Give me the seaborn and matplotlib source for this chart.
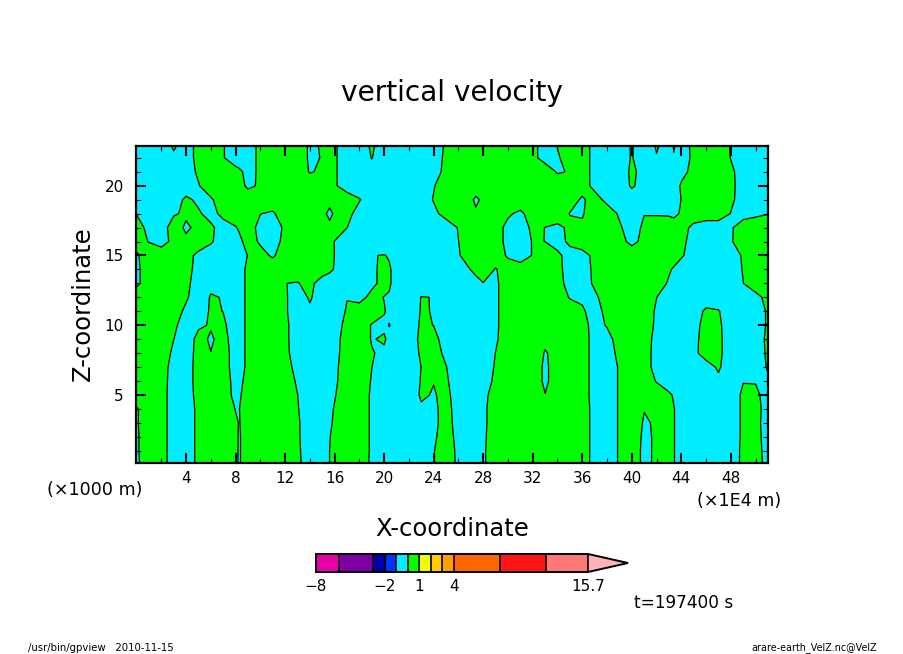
import matplotlib
matplotlib.use('Agg')
import matplotlib.pyplot as plt
from matplotlib.colors import ListedColormap, BoundaryNorm
import numpy as np
import seaborn as sns

# x in units of 1E4 m, z in units of 1000 m
x_vals = [0, 1, 2, 3, 4, 5, 6, 7, 8, 8.3,
          9, 10, 11, 12, 13, 14, 15, 15.6, 16, 17, 18,
          19, 20, 20.4, 21, 22, 23, 24, 25, 26, 27, 27.4,
          28, 29, 30, 31, 32, 33, 34, 35, 36, 37,
          38, 39, 40, 41, 42, 43, 43.4, 44, 45, 46,
          47, 48, 49, 50, 51]
z_vals = list(range(24))

# vertical velocity, one row per z level
w_z00 = [-.25,.75,.47,-.53,-.7,.3,.9,.9,.17,-.1,
         .6,.9,.9,.9,.3,-.7,-.6,.01,.4,.9,.75,
         -.25,-.9,-.9,-.9,-.9,-.9,-.05,.7,-.25,-.9,-.8,
         -.2,.8,.9,.9,.9,.9,.9,.9,.6,-.4,
         -.85,.15,.9,-.39,.26,.45,.05,-.55,-.9,-.9,
         -.9,-.7,.3,.55,-.45]
w_z01 = [-.2,.8,.47,-.53,-.7,.3,.9,.9,.2,-.1,
         .6,.9,.9,.9,.25,-.75,-.6,.01,.4,.9,.8,
         -.2,-.9,-.9,-.9,-.9,-.9,-.05,.7,-.3,-.9,-.8,
         -.2,.8,.9,.9,.9,.9,.9,.9,.6,-.4,
         -.85,.15,.9,-.39,.26,.45,.05,-.55,-.9,-.9,
         -.9,-.7,.3,.5,-.5]
w_z02 = [-.2,.8,.47,-.53,-.7,.3,.9,.9,.2,-.1,
         .6,.9,.9,.9,.2,-.8,-.65,-.05,.35,.9,.8,
         -.2,-.9,-.9,-.9,-.9,-.8,-.2,.6,-.4,-.9,-.85,
         -.25,.75,.9,.9,.9,.9,.9,.9,.6,-.4,
         -.85,.15,.9,-.3,.2,.45,.05,-.55,-.9,-.9,
         -.9,-.75,.25,.45,-.55]
w_z03 = [-.15,.85,.47,-.53,-.7,.3,.9,.9,.17,-.05,
         .55,.9,.9,.9,.2,-.8,-.8,-.2,.2,.9,.8,
         -.2,-.9,-.9,-.9,-.9,-.7,-.3,.5,-.5,-.9,-.9,
         -.3,.7,.9,.9,.9,.9,.9,.9,.6,-.4,
         -.85,.15,.9,-.15,.15,.45,.05,-.55,-.9,-.9,
         -.9,-.75,.25,.4,-.6]
w_z04 = [-.15,.85,.47,-.53,-.7,.3,.9,.9,-.05,-.02,
         .7,.9,.9,.9,.1,-.9,-.9,-.3,.1,.9,.8,
         -.2,-.9,-.9,-.9,-.9,-.2,-.25,.45,-.55,-.9,-.9,
         -.3,.7,.9,.9,.9,.9,.9,.9,.6,-.4,
         -.85,.15,.9,.05,.9,.45,.05,-.55,-.9,-.9,
         -.9,-.75,.25,.45,-.55]
w_z05 = [.9,.9,.47,-.53,-.6,.4,.9,.65,-.35,-.15,
         .55,.9,.9,.9,.02,-.9,-.9,-.5,-.1,.9,.8,
         -.2,-.9,-.9,-.9,-.9,.2,-.1,.35,-.65,-.9,-.9,
         -.4,.6,.9,.9,.9,.03,.9,.9,.55,-.45,
         -.85,.15,.9,.9,.9,.25,-.15,-.75,-.9,-.9,
         -.9,-.75,.25,.35,-.65]
w_z06 = [.9,.9,.5,-.5,-.55,.45,.9,.6,-.4,-.3,
         .4,.9,.9,.8,-.2,-.9,-.9,-.65,-.25,.75,.9,
         -.1,-.9,-.9,-.9,-.9,.1,.04,.2,-.8,-.9,-.9,
         -.7,.3,.9,.9,.75,-.25,.65,.9,.55,-.45,
         -.85,.15,.9,.9,-.1,-.9,-.9,-.9,-.9,-.9,
         -.3,-.9,-.05,-.1,-.2]
w_z07 = [.9,.9,.55,-.45,-.55,.45,.9,.5,-.5,-.45,
         .25,.9,.9,.55,-.45,-.9,-.9,-.7,-.3,.7,.9,
         .02,-.9,-.9,-.9,-.9,.02,.9,.05,-.9,-.9,-.9,
         -.85,.15,.9,.9,.75,-.25,.65,.9,.55,-.45,
         -.85,.15,.9,.55,-.45,-.9,-.9,-.9,-.9,-.6,
         .2,-.9,-.9,-.85,.15]
w_z08 = [.9,.9,.75,-.25,-.6,.4,.02,.45,-.45,-.45,
         .25,.9,.9,.35,-.65,-.9,-.9,-.8,-.4,.6,.9,
         .1,-.3,-.5,-.9,-.8,.2,.65,-.35,-.9,-.9,-.9,
         -.9,.02,.9,.9,.9,-.1,.4,.9,.55,-.45,
         -.65,.35,.9,.55,-.45,-.9,-.9,-.9,-.35,.65,
         .3,-.7,-.9,-.75,.25]
w_z09 = [.9,.9,.9,.02,-.75,.4,-.15,.4,-.6,-.45,
         .25,.9,.9,.3,-.7,-.9,-.9,-.85,-.45,.55,.9,
         -.1,.2,-.4,-.9,-.7,.3,.4,-.6,-.9,-.9,-.9,
         -.9,-.2,.8,.9,.9,.3,.9,.9,.55,-.45,
         -.45,.55,.9,.6,-.4,-.9,-.9,-.9,-.4,.6,
         .3,-.7,-.9,-.7,.3]
w_z10 = [.9,.9,.9,.3,-.7,-.2,.1,.25,-.75,-.45,
         .25,.9,.9,.3,-.7,-.9,-.9,-.9,-.6,.4,.9,
         -.1,-.3,.05,-.3,-.8,.2,-.02,-.9,-.9,-.9,-.9,
         -.9,-.25,.75,.9,.9,.9,.9,.9,.5,-.5,
         .1,.9,.9,.75,-.25,-.9,-.9,-.9,-.5,.5,
         .25,-.75,-.9,-.8,.2]
w_z11 = [.9,.9,.9,.7,-.3,-.9,.2,-.02,-.75,-.45,
         .25,.9,.9,.2,-.8,-.3,-.9,-.9,-.85,.15,.9,
         .9,.1,-.3,-.9,-.9,.1,-.05,-.9,-.9,-.9,-.9,
         -.9,-.25,.75,.9,.9,.9,.9,.8,.2,-.6,
         .4,.9,.9,.8,-.2,-.9,-.9,-.9,-.85,.3,
         .1,-.9,-.9,-.8,.2]
w_z12 = [.9,.9,.9,.9,.2,-.8,.1,-.05,-.75,-.45,
         .25,.9,.9,.2,-.8,.2,-.9,-.9,-.9,-.05,-.6,
         .5,-.05,-.1,-.9,-.9,.05,-.03,-.9,-.9,-.9,-.9,
         -.9,-.25,.75,.9,.9,.9,.8,-.1,-.25,-.3,
         .7,.9,.9,.9,.02,-.9,-.9,-.9,-.9,-.9,
         -.9,-.9,-.9,-.5,.5]
w_z13 = [-.3,.7,.9,.9,.35,-.65,-.3,-.9,-.75,-.45,
         .25,.9,.9,.02,-.1,.5,-.9,-.9,-.9,-.9,-.9,
         -.4,.55,.15,-.45,-.9,-.9,-.9,-.9,-.9,-.9,-.5,
         -.05,-.25,.75,.9,.9,.9,.5,-.5,-.75,.25,
         .9,.9,.9,.9,.8,-.2,-.6,-.9,-.9,-.9,
         -.9,-.9,-.02,.9,.9]
w_z14 = [-.3,.7,.9,.9,.5,-.5,-.9,-.9,-.75,-.45,
         .25,.9,.9,.9,.9,.9,.9,.3,-.1,-.9,-.9,
         -.4,.55,.15,-.45,-.9,-.9,-.9,-.9,-.9,.05,.4,
         .9,-.1,.75,.9,.9,.9,.4,-.6,-.7,.3,
         .9,.9,.9,.9,.9,.2,-.2,-.8,-.9,-.9,
         -.9,-.9,.1,.9,.9]
w_z15 = [-.2,.8,.9,.9,.6,-.4,-.9,-.9,-.9,-.65,
         .05,.5,-.2,.8,.9,.9,.9,.4,-.02,-.9,-.9,
         -.05,.05,-.1,-.9,-.9,-.9,-.9,-.9,-.15,.85,.9,
         .9,.8,-.2,-.9,.1,.9,.35,-.65,-.6,.4,
         .9,.9,.9,.9,.9,.9,.8,.2,-.8,-.9,
         -.9,-.8,.2,.9,.9]
w_z16 = [.5,-.05,-.6,.4,.4,.9,.2,-.8,-.65,-.35,
         .6,-.2,-.6,.4,.9,.9,.9,.45,-.05,-.9,-.9,
         -.9,-.9,-.9,-.9,-.9,-.9,-.9,-.9,-.02,.9,.9,
         .9,.6,-.4,-.9,.1,-.01,-.65,.35,.9,.9,
         .9,.5,-.4,.4,.9,.9,.9,.4,-.6,-.9,
         -.9,-.15,.85,.9,.9]
w_z17 = [.6,-.4,-.9,.9,-.3,.45,.3,-.7,-.1,.2,
         .6,-.4,-.75,.25,.9,.9,.9,.25,.9,.02,-.9,
         -.9,-.9,-.9,-.9,-.9,-.9,-.9,-.9,.1,.9,.9,
         .9,.6,-.4,-.7,.3,-.02,-.35,.3,.3,.9,
         .9,.2,-.75,.3,.9,.9,.9,.6,-.4,-.9,
         -.9,-.2,.8,.9,.9]
w_z18 = [-.05,-.9,-.9,-.2,.3,.2,-.55,.45,.9,.9,
         .9,.03,-.2,.8,.9,.9,.3,-.25,.15,.45,-.55,
         -.9,-.9,-.9,-.9,-.9,-.9,-.4,.6,.9,.9,.25,
         .9,.9,.2,-.3,.7,.9,.9,-.05,-.15,.9,
         .8,-.2,-.9,-.05,-.15,-.2,-.4,.2,.9,.9,
         .9,-.05,-.6,-.3,-.05]
w_z19 = [-.9,-.9,-.9,-.8,.3,-.3,-.2,.8,.9,.9,
         .9,.9,.9,.9,.9,.9,.9,.35,.9,.9,.1,
         -.9,-.9,-.9,-.9,-.9,-.9,.1,.9,.9,.3,-.3,
         .3,.9,.9,.9,.9,.9,.9,.6,-.2,.6,
         -.4,-.9,-.8,-.9,-.9,-.9,-.6,.03,.9,.9,
         .9,.3,-.7,-.9,-.9]
w_z20 = [-.9,-.9,-.9,-.9,-.9,-.1,.9,.9,.9,.55,
         -.3,.2,.9,.9,.9,.9,.9,.6,.2,-.8,-.9,
         -.9,-.9,-.9,-.9,-.9,-.9,-.1,.9,.9,.9,.9,
         .9,.9,.9,.9,.9,.9,.9,.9,.6,-.4,
         -.9,-.9,.2,-.6,-.9,-.9,-.8,.2,.9,.9,
         .9,.35,-.65,-.9,-.9]
w_z21 = [-.9,-.9,-.9,-.9,-.75,.25,.9,.9,.6,.3,
         -.5,.27,.9,.9,.9,-.1,.2,.6,.2,-.8,-.9,
         -.6,-.9,-.9,-.9,-.9,-.9,-.6,.4,.9,.9,.9,
         .9,.9,.9,.9,.9,.9,-.15,.1,.6,-.4,
         -.9,-.9,.3,-.5,-.9,-.9,-.9,-.5,.5,.9,
         .9,.3,-.7,-.9,-.9]
w_z22 = [-.9,-.9,-.9,-.3,-.6,.4,.9,.1,-.9,-.9,
         -.65,.35,.9,.9,.8,-.2,.05,.6,.2,-.8,-.9,
         .05,-.9,-.9,-.9,-.9,-.9,-.7,.3,.9,.9,.9,
         .9,.9,.9,.9,.4,-.6,-.1,.4,.6,-.4,
         -.9,-.7,.1,-.9,-.1,-.9,-.1,-.7,.3,.9,
         .9,-.05,-.9,-.9,-.9]
w_z23 = [-.9,-.9,-.9,.3,-.6,.4,.9,.1,-.9,-.9,
         -.65,.35,.9,.9,.8,-.2,.1,.6,.2,-.8,-.9,
         .3,-.9,-.9,-.9,-.9,-.9,-.8,.2,.9,.9,.9,
         .9,.9,.9,.9,.4,-.6,.05,.9,.6,-.4,
         -.9,-.6,.1,-.9,.2,-.6,.15,-.65,.35,.9,
         .9,-.1,-.9,-.9,-.9]

# tone levels and their colours
levels = [-8, -6, -3, -2, -1, 0, 1, 2, 3, 4, 8, 12, 15.7]
level_colors = ['#E600AA', '#7D00A5', '#0000AA', '#0032FF', '#00EEFF', '#00FF00',
                '#F0FF00', '#FFCD00', '#FFA000', '#FF6600', '#FF1414', '#FF7878']
over_color = '#FFB4B9'
bar_ticks = [-8, -2, 1, 4, 15.7]
bar_labels = ['\u22128', '\u22122', '1', '4', '15.7']
x_ticks = list(range(4, 49, 4))
z_ticks = [5, 10, 15, 20]

w = np.array([w_z00, w_z01, w_z02, w_z03, w_z04, w_z05, w_z06, w_z07,
              w_z08, w_z09, w_z10, w_z11, w_z12, w_z13, w_z14, w_z15,
              w_z16, w_z17, w_z18, w_z19, w_z20, w_z21, w_z22, w_z23])

sns.set_theme(style='ticks', rc={'xtick.direction': 'in', 'ytick.direction': 'in',
                                 'axes.axisbelow': False, 'text.color': 'black',
                                 'xtick.color': 'black', 'ytick.color': 'black'})
plt.rcParams['font.family'] = ['DejaVu Sans']

W, H = 904, 654
fig = plt.figure(figsize=(W / 100, H / 100), dpi=100)
ax = fig.add_axes([136.5 / W, 1 - 463 / H, 631.5 / W, 317 / H])

cmap = ListedColormap(sns.color_palette(level_colors))
cmap.set_over(over_color)
norm = BoundaryNorm(levels, cmap.N)

cf = ax.contourf(x_vals, z_vals, w, levels=levels, cmap=cmap, norm=norm, extend='max')
ax.contour(x_vals, z_vals, w, levels=[0], colors='black', linewidths=0.9)

ax.set_xlim(0, 51)
ax.set_ylim(0.12, 22.85)
ax.set_xticks(x_ticks)
ax.set_xticks(range(2, 51, 2), minor=True)
ax.set_yticks(z_ticks)
ax.set_yticks(range(1, 23), minor=True)
ax.tick_params(which='major', length=7, width=1.5, top=True, right=True,
               labelsize=11, pad=6)
ax.tick_params(which='minor', length=3.8, width=0.8, top=True, right=True)
ax.tick_params(axis='y', which='major', pad=9)
for spine in ax.spines.values():
    spine.set_linewidth(1.6)
    spine.set_color('black')

fig.text(452 / W, 1 - 93 / H, 'vertical velocity', fontsize=20.2, ha='center', va='center')
fig.text(452 / W, 1 - 529 / H, 'X-coordinate', fontsize=17.5, ha='center', va='center')
fig.text(83 / W, 1 - 304 / H, 'Z-coordinate', fontsize=17.5, rotation=90, ha='center', va='center')
fig.text(95 / W, 1 - 490 / H, '(×1000 m)', fontsize=12.6, ha='center', va='center')
fig.text(739 / W, 1 - 501 / H, '(×1E4 m)', fontsize=12.6, ha='center', va='center')
fig.text(684 / W, 1 - 603 / H, 't=197400 s', fontsize=12.2, ha='center', va='center')
fig.text(101 / W, 1 - 648 / H, '/usr/bin/gpview   2010-11-15', fontsize=7.3, ha='center', va='center')
fig.text(814 / W, 1 - 648 / H, 'arare-earth_VelZ.nc@VelZ', fontsize=6.9, ha='center', va='center')

# tone bar under the plot, the arrow takes up the last 40 pixels
cax = fig.add_axes([316 / W, 1 - 572 / H, 312 / W, 18 / H])
cbar = fig.colorbar(cf, cax=cax, orientation='horizontal', spacing='proportional',
                    ticks=bar_ticks, drawedges=True, extendfrac=0.147)
cbar.ax.set_xticklabels(bar_labels)
cbar.ax.tick_params(length=0, labelsize=11, pad=5)
cbar.ax.minorticks_off()
cbar.outline.set_linewidth(1.4)
cbar.outline.set_edgecolor('black')
cbar.dividers.set_color('black')
cbar.dividers.set_linewidth(1.2)

fig.savefig('out.png', dpi=100)
